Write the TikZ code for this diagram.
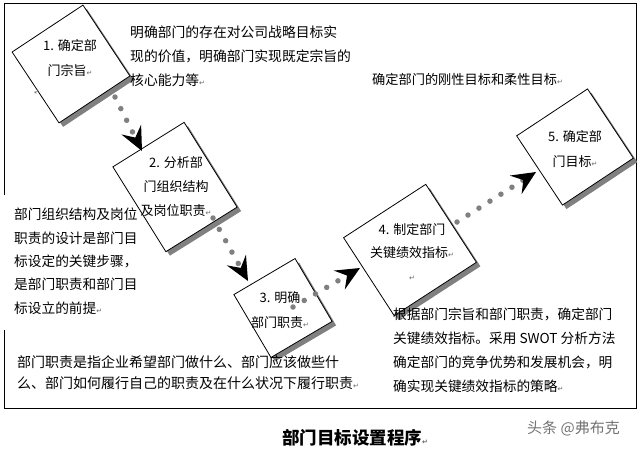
\documentclass[tikz,border=0pt]{standalone}
\usepackage{fontspec}
\setmainfont{Noto Sans CJK SC}
\newfontfamily\symfont{DejaVu Sans}
\usetikzlibrary{arrows.meta,calc}
\newcommand{\pmark}{{\symfont\fontsize{7}{7}\selectfont\textcolor{black!60}{↵}}}

\begin{document}
\begin{tikzpicture}[x=1pt,y=-1pt,
  stepbox/.style={draw=black,fill=white,line width=0.8pt,inner sep=0pt},
  shadebox/.style={fill=black!50,inner sep=0pt},
  dotarrow/.style={black!50,line width=5.5pt,line cap=round,dash pattern=on 0pt off 13pt,
    -{Stealth[black,length=24pt,width=22pt,inset=9pt,line width=0pt]}},
  boxtext/.style={align=center,font=\fontsize{13}{24.5}\selectfont,inner sep=0pt},
  note/.style={align=left,font=\fontsize{13.8}{24}\selectfont,inner sep=0pt,anchor=north west}]

  \useasboundingbox (0,0) rectangle (640,451);

  %frame, open on the left where the text stands
  \draw[line width=0.8pt] (4,195) -- (4,3) -- (636,3) -- (636,408) -- (4,408) -- (4,330);

  %tilted step boxes with their shadow
  \foreach \n/\x/\y/\w/\h/\r in {1/71/64/85/85/33.5, 2/175/187/84/100/32,
      3/283/308/71/73/30.5, 4/410/250/98/93/33, 5/575/147/85/83/33.5}{
    \node[shadebox,minimum width=\w pt,minimum height=\h pt,rotate=\r] at (\x+4,\y+4) {};
    \node[stepbox,minimum width=\w pt,minimum height=\h pt,rotate=\r] (b\n) at (\x,\y) {};
  }

  %dotted arrows
  \draw[dotarrow] ([shift={(44,33)}]b1.center) -- ([shift={(-33,-36)}]b2.center);
  \draw[dotarrow] ([shift={(38,31)}]b2.center) -- ([shift={(-35,-27)}]b3.center);
  \draw[dotarrow] ([shift={(10,-1)}]b3.center) -- ([shift={(-50,18)}]b4.center);
  \draw[dotarrow] ([shift={(47,-28)}]b4.center) -- ([shift={(-39,25)}]b5.center);

  %box texts
  \node[boxtext] (t1) at (70,58) {1. 确定部\\门宗旨\pmark};
  \node[rotate=33] (m1) at (37,92) {\pmark};
  \node[boxtext,font=\fontsize{13}{24}\selectfont] (t2) at (176,187) {2. 分析部\\门组织结构\\及岗位职责\pmark};
  \node[boxtext] (t3) at (280,310) {3. 明确\\部门职责\pmark};
  \node[boxtext,font=\fontsize{13}{23}\selectfont] (t4) at (412,252) {4. 制定部门\\关键绩效指标\pmark\\\pmark};
  \node[boxtext] (t5) at (575,149) {5. 确定部\\门目标\pmark};

  %notes
  \node[note] (n1) at (130,26) {明确部门的存在对公司战略目标实\\现的价值，明确部门实现既定宗旨的\\核心能力等\pmark};
  \node[note,font=\fontsize{13.2}{24}\selectfont] (n2) at (372,73) {确定部门的刚性目标和柔性目标\pmark};
  \node[note,font=\fontsize{13.7}{23.3}\selectfont] (n3) at (14,208) {部门组织结构及岗位\\职责的设计是部门目\\标设定的关键步骤，\\是部门职责和部门目\\标设立的前提\pmark};
  \node[note,font=\fontsize{14}{21}\selectfont] (n4) at (17,355) {部门职责是指企业希望部门做什么、部门应该做些什\\么、部门如何履行自己的职责及在什么状况下履行职责\pmark};
  \node[note,font=\fontsize{13.7}{24}\selectfont] (n5) at (393,308) {根据部门宗旨和部门职责，确定部门\\关键绩效指标。采用 SWOT 分析方法\\确定部门的竞争优势和发展机会，明\\确实现关键绩效指标的策略\pmark};

  %title and mark
  \node[font=\fontsize{17.5}{20}\selectfont\bfseries,inner sep=0pt] (title) at (355,438) {部门目标设置程序\pmark};
  \node[anchor=west,text=black!55,font=\fontsize{15}{18}\selectfont,inner sep=0pt] (wm) at (527,428) {头条 @弗布克};

\end{tikzpicture}
\end{document}
